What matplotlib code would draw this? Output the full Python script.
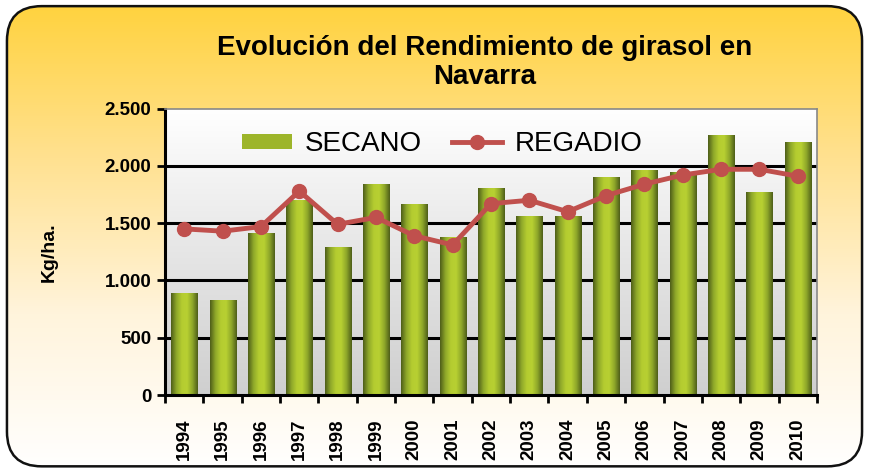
import numpy as np
import matplotlib
matplotlib.use("Agg")
import matplotlib.pyplot as plt
from matplotlib.patches import FancyBboxPatch
from matplotlib.colors import LinearSegmentedColormap
from matplotlib.ticker import FuncFormatter

years = ['1994', '1995', '1996', '1997', '1998', '1999', '2000', '2001', '2002',
         '2003', '2004', '2005', '2006', '2007', '2008', '2009', '2010']
secano = [890, 830, 1410, 1700, 1290, 1840, 1670, 1380, 1810,
          1560, 1560, 1900, 1960, 1950, 2270, 1770, 2210]
regadio = [1450, 1430, 1470, 1780, 1490, 1550, 1390, 1310, 1670,
           1700, 1600, 1740, 1840, 1920, 1970, 1970, 1910]

plt.rcParams['font.family'] = ['Liberation Sans', 'DejaVu Sans']

fig = plt.figure(figsize=(8.69, 4.72), dpi=100)
fig.patch.set_facecolor('white')

# background card with yellow gradient
bg = fig.add_axes([0, 0, 1, 1], zorder=-10)
bg.set_xlim(0, 1)
bg.set_ylim(0, 1)
bg.set_axis_off()
card = FancyBboxPatch((0.008, 0.012), 0.984, 0.975,
                      boxstyle="round,pad=0,rounding_size=0.04",
                      mutation_aspect=869 / 472,
                      facecolor='none', edgecolor='#111111', lw=1.8,
                      transform=bg.transAxes, zorder=2)
bg.add_patch(card)
ycmap = LinearSegmentedColormap.from_list('card', ['#FFFFFF', '#FFF4DC', '#FFE190', '#FFD23C'])
grad = np.linspace(0, 1, 256)[:, None]
im = bg.imshow(grad, cmap=ycmap, extent=[0, 1, 0, 1], origin='lower',
               aspect='auto', zorder=1)
im.set_clip_path(card)

ax = fig.add_axes([0.190, 0.163, 0.750, 0.607])
x = np.arange(len(years))
ax.set_xlim(-0.5, len(years) - 0.5)
ax.set_ylim(0, 2500)

# plot area gradient (white top -> grey bottom)
pcmap = LinearSegmentedColormap.from_list('plot', ['#CFCFCF', '#E6E6E6', '#FFFFFF'])
ax.imshow(grad, cmap=pcmap, extent=[-0.5, len(years) - 0.5, 0, 2500],
          origin='lower', aspect='auto', zorder=0)

for yv in [500, 1000, 1500, 2000]:
    ax.axhline(yv, color='black', lw=2.2, zorder=1)

bars = ax.bar(x, secano, width=0.68, color='#9DB52A', zorder=2, label='SECANO')
gcmap = LinearSegmentedColormap.from_list('bar', ['#4F5F1A', '#8FA82A', '#B4CC30',
                                                  '#B8D032', '#8FA82A', '#4F5F1A'])
hgrad = np.linspace(0, 1, 64)[None, :]
for b in bars:
    bx, bw, bh = b.get_x(), b.get_width(), b.get_height()
    gi = ax.imshow(hgrad, cmap=gcmap, extent=[bx, bx + bw, 0, bh],
                   aspect='auto', zorder=2.1)
    gi.set_clip_path(b)

line, = ax.plot(x, regadio, color='#C0504D', lw=3.5, marker='o', markersize=10,
                markerfacecolor='#C0504D', markeredgecolor='#C0504D', zorder=3,
                label='REGADIO')

for s in ['left', 'bottom']:
    ax.spines[s].set_linewidth(2.2)
    ax.spines[s].set_color('black')
for s in ['top', 'right']:
    ax.spines[s].set_linewidth(1.2)
    ax.spines[s].set_color('#888888')

ax.set_yticks([0, 500, 1000, 1500, 2000, 2500])
ax.yaxis.set_major_formatter(FuncFormatter(lambda v, p: f"{int(v):,}".replace(',', '.')))
ax.tick_params(axis='y', length=6, width=2, labelsize=13.5, pad=4)
ax.set_xticks(x)
ax.set_xticklabels(years, rotation=90)
ax.set_xticks(np.arange(len(years) + 1) - 0.5, minor=True)
ax.tick_params(axis='x', which='major', length=0, labelsize=13.5, pad=17)
ax.tick_params(axis='x', which='minor', length=6, width=2)
for lab in ax.get_xticklabels() + ax.get_yticklabels():
    lab.set_fontweight('bold')

ax.set_ylabel('Kg/ha.', fontsize=14, fontweight='bold')
ax.yaxis.set_label_coords(-0.165, 0.5)

fig.text(0.558, 0.868, 'Evolución del Rendimiento de girasol en\nNavarra',
         ha='center', va='center', fontsize=20, fontweight='bold', linespacing=1.15)

leg = ax.legend([bars, line], ['SECANO', 'REGADIO'], loc='center',
                bbox_to_anchor=(0.425, 0.875), ncol=2,
                frameon=False, fontsize=20, handlelength=1.8, columnspacing=1.1,
                handletextpad=0.45, handleheight=0.5)
leg.set_zorder(5)

plt.savefig('out.png', dpi=100)
